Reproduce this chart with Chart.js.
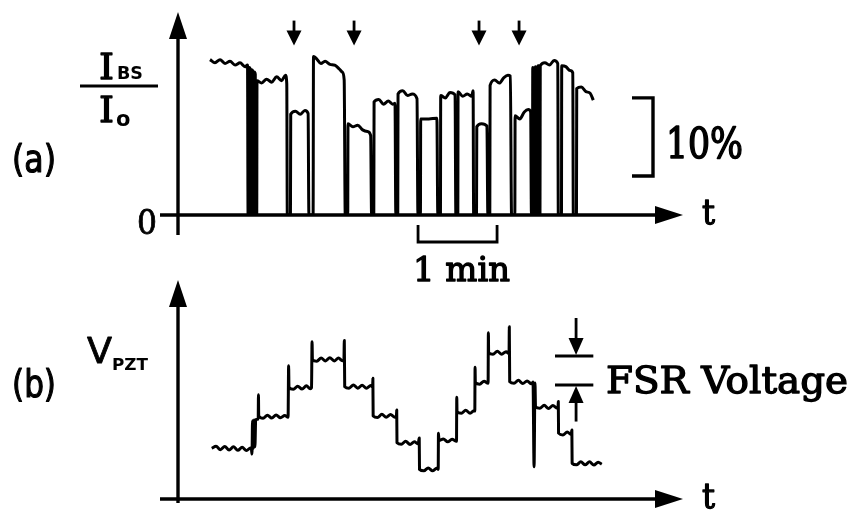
<!DOCTYPE html>
<html>
<head>
<meta charset="utf-8">
<script src="https://cdn.jsdelivr.net/npm/chart.js@4.4.1/dist/chart.umd.min.js"></script>
<style>
  html, body { margin: 0; padding: 0; background: #fff; }
  #wrap { position: relative; width: 853px; height: 518px; background: #fff; overflow: hidden; }
  canvas { position: absolute; left: 0; }
  #cA { top: 0; }
  #cB { top: 250px; }
</style>
</head>
<body>
<div id="wrap">
  <canvas id="cA" width="853" height="300"></canvas>
  <canvas id="cB" width="853" height="268"></canvas>
</div>
<script>
// (a) back-scattered intensity I_BS/I_o [%] versus time [s]
const traceA = [
  [24.3,19.9],[28.1,19.5],[31.9,19.9],[35.7,19.4],[39.5,19.7],[43.3,19.2],[47.1,19.5],[50.9,19.0],[52.8,19.2],
  [53.2,0],[54.0,0],[54.2,18.9],[54.9,18.6],[55.1,0],[55.9,0],[56.1,18.6],[56.8,18.4],[57.0,0],
  [57.8,0],[58.0,18.3],[58.7,18.0],[58.9,0],[59.8,0],[60.0,17.2],
  [63.5,16.9],[67.3,17.4],[71.1,17.0],[74.9,17.7],[78.7,17.2],[81.6,17.9],[82.6,16.8],
  [83.0,0],[85.4,0],[85.6,12.9],
  [89.2,13.3],[92.8,12.9],[96.4,13.4],[98.8,13.0],[99.4,0],[102.6,0],[102.9,20.3],
  [105.3,20.0],[108.5,19.4],[111.7,19.7],[115.4,19.3],[119.0,19.2],[122.5,18.7],[124.8,18.3],[126.2,17.3],
  [127.0,0],[128.9,0],[129.1,11.7],
  [132.8,11.3],[136.5,11.5],[140.2,10.9],[143.9,10.7],[146.3,10.2],[147.0,0],[148.7,0],[148.9,14.5],
  [152.5,14.8],[156.1,14.2],[159.7,14.6],[163.0,14.2],[164.8,14.3],[165.4,0],[166.9,0],[167.1,15.5],
  [170.7,15.9],[174.3,15.3],[177.9,15.5],[181.5,14.9],[182.2,0],[184.1,0],[184.3,12.3],
  [190.5,12.3],[196.6,12.4],[197.3,0],[199.3,0],[199.5,15.3],
  [203.0,15.0],[206.5,15.7],[210.4,15.4],[211.0,0],[212.5,0],[212.7,15.8],
  [216.2,15.2],[219.7,15.5],[223.0,15.2],[224.1,15.9],[224.5,0],[226.7,0],[226.9,11.3],
  [230.5,11.7],[234.6,11.4],[235.3,0],[236.8,0],[237.0,16.6],
  [240.5,17.3],[244.0,16.9],[247.5,17.6],[250.5,17.9],[252.4,17.8],[253.3,0],[255.8,0],[256.0,12.7],
  [259.5,12.3],[263.0,13.2],[266.0,13.5],[267.8,13.2],[268.4,0],
  [269.2,0],[269.4,18.9],[270.2,18.8],[270.4,0],[271.2,0],[271.4,19.0],[272.2,18.9],[272.4,0],
  [273.2,0],[273.4,19.1],[274.2,19.1],[274.4,0],[274.9,0],[275.1,19.1],
  [278.6,19.5],[282.1,19.2],[285.6,19.8],[288.4,19.4],[288.8,0],[291.2,0],[291.4,19.1],
  [294.5,19.0],[297.7,18.5],[299.8,18.2],[300.2,0],[302.6,0],[302.8,16.2],
  [306.3,16.4],[309.8,15.8],[313.0,15.6],[315.4,14.7]
];

// (b) piezo voltage V_PZT [FSR units] versus time [s]
const traceB = [
  [25.6,1.75],[28.9,1.82],[32.2,1.70],[35.5,1.81],[38.8,1.69],[42.1,1.80],[45.4,1.68],[48.7,1.78],
  [52.0,1.67],[55.0,1.76],[55.8,1.70],[56.2,1.55],
  [56.6,2.70],[57.2,1.75],[57.8,2.72],[58.4,1.80],[59.0,2.72],[59.8,2.75],[60.9,2.76],[61.1,3.59],
  [61.3,2.86],[64.6,2.78],[67.9,2.89],[71.2,2.79],[74.5,2.90],[77.8,2.80],[81.1,2.88],[83.6,2.82],
  [84.0,4.59],[84.3,3.85],
  [87.6,3.78],[90.9,3.89],[94.2,3.79],[97.5,3.90],[100.4,3.80],[101.4,3.84],[101.8,5.42],[102.1,4.80],
  [105.4,4.75],[108.7,4.86],[112.0,4.76],[115.3,4.87],[118.6,4.76],[121.9,4.86],[124.8,4.77],[126.0,4.80],
  [126.3,5.46],[126.6,3.87],
  [129.9,3.82],[133.2,3.93],[136.5,3.82],[139.8,3.92],[143.1,3.82],[146.4,3.91],[147.8,3.86],
  [148.0,4.16],[148.2,2.86],
  [151.5,2.81],[154.8,2.92],[158.1,2.82],[161.4,2.91],[164.7,2.82],[165.9,2.88],[166.1,3.07],[166.3,1.94],
  [169.6,1.89],[172.9,1.99],[176.2,1.88],[179.5,1.97],[182.4,1.90],[183.2,2.10],[183.4,1.02],
  [186.7,0.97],[190.0,1.07],[193.3,0.97],[196.4,1.06],[197.6,1.02],[197.8,2.27],[198.2,2.01],
  [201.5,2.07],[204.8,1.97],[208.1,2.06],[211.5,1.99],[211.7,3.51],[211.9,3.01],
  [215.2,2.96],[218.5,3.06],[221.8,2.96],[225.0,3.05],[225.4,3.03],[225.6,4.54],[225.8,4.01],
  [229.1,3.96],[232.4,4.06],[235.5,3.99],[235.7,5.73],[235.9,5.04],
  [239.2,4.99],[242.5,5.09],[245.8,4.99],[249.1,5.08],[251.4,5.01],[251.6,5.94],[251.9,4.04],
  [255.2,3.99],[258.5,4.09],[261.8,3.98],[265.1,4.07],[268.4,3.97],[269.6,4.03],[270.4,1.11],
  [271.1,4.00],[271.5,3.18],
  [274.8,3.13],[278.1,3.23],[281.4,3.12],[284.7,3.22],[288.0,3.13],[288.6,3.16],[288.8,3.36],[289.0,2.27],
  [292.3,2.21],[295.6,2.31],[298.6,2.22],[299.1,2.38],[299.3,1.23],
  [302.6,1.18],[305.9,1.28],[309.2,1.18],[312.5,1.28],[315.8,1.17],[319.1,1.27],[321.8,1.20]
];

const pauseTimes = [88.1, 133.7, 228.6, 259.0];   // marked events along (a)
const pauseArrowSpan = [24.9, 21.7];               // arrow tail / tip, % units
const tenPercentBar = [5, 15];                     // scale bar, %
const oneMinuteBar = [182.3, 242.3];               // scale bar, s
const fsrLevels = [3.93, 4.93];                    // one free spectral range apart
const fsrMarkTimes = [286.3, 315.4, 302.3];        // line start, line end, arrow position
const fsrArrowEnds = [6.24, 2.67];

const T_MAX = 383.5;
const A_MAX = 26.0;
const B_MAX = 7.55;

const INK = '#000';

function line(ctx, x1, y1, x2, y2) {
  ctx.beginPath(); ctx.moveTo(x1, y1); ctx.lineTo(x2, y2); ctx.stroke();
}
function head(ctx, x, y, dir, len, half) {
  ctx.beginPath();
  ctx.moveTo(x, y);
  if (dir === 'up')    { ctx.lineTo(x - half, y + len); ctx.lineTo(x + half, y + len); }
  if (dir === 'down')  { ctx.lineTo(x - half, y - len); ctx.lineTo(x + half, y - len); }
  if (dir === 'right') { ctx.lineTo(x - len, y - half); ctx.lineTo(x - len, y + half); }
  ctx.closePath(); ctx.fill();
}
// text fitted horizontally to a given width, optionally thickened with an outline
function label(ctx, text, x, y, font, width, weight) {
  ctx.save();
  ctx.font = font; ctx.textAlign = 'left'; ctx.textBaseline = 'alphabetic';
  const w = ctx.measureText(text).width;
  ctx.translate(x, y);
  if (width) ctx.scale(width / w, 1);
  ctx.fillText(text, 0, 0);
  if (weight) { ctx.lineWidth = weight; ctx.lineJoin = 'round'; ctx.strokeText(text, 0, 0); }
  ctx.restore();
}

const SERIF = '"DejaVu Serif", "Liberation Serif", serif';
const SANS = '"DejaVu Sans", "Liberation Sans", sans-serif';

function axesPlugin(which) {
  return {
    id: 'axes' + which,
    beforeDatasetsDraw(chart) {
      const { ctx } = chart;
      const xs = chart.scales.x, ys = chart.scales.y;
      const x0 = xs.getPixelForValue(0), y0 = ys.getPixelForValue(0);
      const xEnd = xs.getPixelForValue(T_MAX), yTop = ys.getPixelForValue(ys.max);
      ctx.save();
      ctx.strokeStyle = INK; ctx.fillStyle = INK; ctx.lineWidth = 3.4; ctx.lineCap = 'butt';
      line(ctx, x0, y0 + (which === 'A' ? 20 : 4), x0, yTop + 20);
      head(ctx, x0, yTop, 'up', 27, 9);
      line(ctx, x0 - 18, y0, xEnd - 20, y0);
      head(ctx, xEnd, y0, 'right', 28, 9);
      ctx.restore();
    },
    afterDraw(chart) {
      const { ctx } = chart;
      const xs = chart.scales.x, ys = chart.scales.y;
      const x0 = xs.getPixelForValue(0), y0 = ys.getPixelForValue(0);
      const xEnd = xs.getPixelForValue(T_MAX);
      ctx.save();
      ctx.strokeStyle = INK; ctx.fillStyle = INK;
      label(ctx, 't', xEnd + 19, y0 + 9, '36px ' + SERIF, 13, 1.3);
      if (which === 'A') {
        label(ctx, '0', x0 - 41, y0 + 19, '33px ' + SERIF, 20, 0.8);
        label(ctx, '(a)', 12, 172, '37px ' + SANS, 44, 1.2);
        // I_BS / I_o
        label(ctx, 'I', 99, 79, '35px ' + SERIF, 15, 1.3);
        label(ctx, 'BS', 117, 79, 'bold 17px ' + SANS, 26);
        ctx.lineWidth = 3; line(ctx, 80, 86, 158, 86);
        label(ctx, 'I', 99, 122, '35px ' + SERIF, 15, 1.3);
        label(ctx, 'o', 116, 126, 'bold 21px ' + SANS);
        // 10 % scale bar
        const b1 = ys.getPixelForValue(tenPercentBar[0]), b2 = ys.getPixelForValue(tenPercentBar[1]);
        ctx.lineWidth = 3.4;
        ctx.beginPath(); ctx.moveTo(632, b2); ctx.lineTo(653, b2); ctx.lineTo(653, b1); ctx.lineTo(632, b1); ctx.stroke();
        label(ctx, '10%', 666, 158, '42px ' + SERIF, 77, 1.6);
        // 1 min scale bar
        const m1 = xs.getPixelForValue(oneMinuteBar[0]), m2 = xs.getPixelForValue(oneMinuteBar[1]);
        ctx.lineWidth = 2.8;
        ctx.beginPath(); ctx.moveTo(m1, y0 + 10); ctx.lineTo(m1, y0 + 27); ctx.lineTo(m2, y0 + 27); ctx.lineTo(m2, y0 + 10); ctx.stroke();
        label(ctx, '1 min', 413, 281, '34px ' + SERIF, 97, 1.3);
        // event arrows
        ctx.lineWidth = 2.8;
        pauseTimes.forEach(t => {
          const px = xs.getPixelForValue(t);
          const yt = ys.getPixelForValue(pauseArrowSpan[0]), yh = ys.getPixelForValue(pauseArrowSpan[1]);
          line(ctx, px, yt, px, yh - 10);
          head(ctx, px, yh, 'down', 15, 7.5);
        });
      } else {
        label(ctx, '(b)', 12, 397 - 250, '37px ' + SANS, 44, 1.2);
        label(ctx, 'V', 87, 363 - 250, '36px ' + SANS, 25, 0.8);
        label(ctx, 'PZT', 112, 370 - 250, 'bold 16px ' + SANS, 36);
        // free spectral range marker
        const l1 = xs.getPixelForValue(fsrMarkTimes[0]), l2 = xs.getPixelForValue(fsrMarkTimes[1]);
        const ax = xs.getPixelForValue(fsrMarkTimes[2]);
        const yLo = ys.getPixelForValue(fsrLevels[0]), yHi = ys.getPixelForValue(fsrLevels[1]);
        ctx.lineWidth = 2.8;
        line(ctx, l1, yHi, l2, yHi);
        line(ctx, l1, yLo, l2, yLo);
        const aTop = ys.getPixelForValue(fsrArrowEnds[0]), aBot = ys.getPixelForValue(fsrArrowEnds[1]);
        line(ctx, ax, aTop, ax, yHi - 12);
        head(ctx, ax, yHi - 1, 'down', 17, 7.5);
        line(ctx, ax, aBot, ax, yLo + 12);
        head(ctx, ax, yLo + 1, 'up', 17, 7.5);
        label(ctx, 'FSR Voltage', 606, 393 - 250, '37px ' + SERIF, 242, 1.3);
      }
      ctx.restore();
    }
  };
}

function makeChart(id, trace, yMax, padding, which) {
  return new Chart(document.getElementById(id), {
    type: 'line',
    data: {
      datasets: [{
        data: trace.map(([t, v]) => ({ x: t, y: v })),
        borderColor: INK,
        borderWidth: 3,
        borderJoinStyle: 'round',
        cubicInterpolationMode: 'monotone',
        pointRadius: 0,
        fill: false
      }]
    },
    options: {
      responsive: false,
      animation: false,
      events: [],
      layout: { padding },
      plugins: { legend: { display: false }, tooltip: { enabled: false } },
      scales: {
        x: { type: 'linear', min: 0, max: T_MAX, display: false },
        y: { type: 'linear', min: 0, max: yMax, display: false }
      }
    },
    plugins: [axesPlugin(which)]
  });
}

makeChart('cA', traceA, A_MAX, { left: 178, right: 170, top: 12, bottom: 85 }, 'A');
makeChart('cB', traceB, B_MAX, { left: 178, right: 170, top: 30, bottom: 19 }, 'B');
</script>
</body>
</html>
